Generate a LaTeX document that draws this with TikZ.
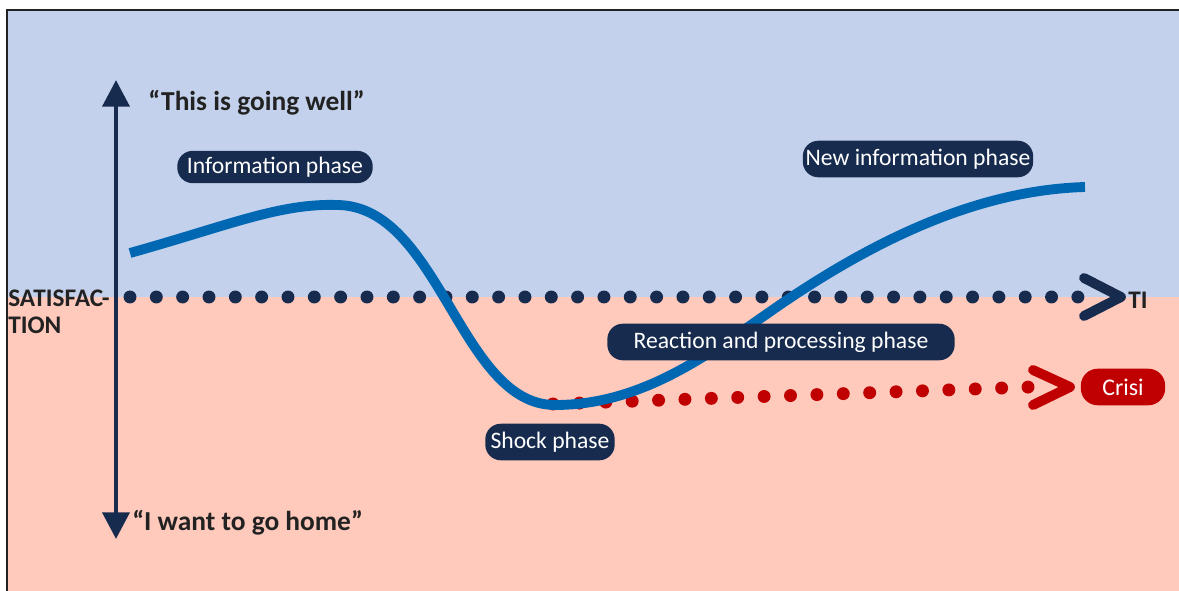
\documentclass[tikz,border=0pt]{standalone}
\usepackage{fontspec}
\setmainfont{Carlito}
\usetikzlibrary{arrows.meta}

\definecolor{bgblue}{HTML}{C4D1EC}
\definecolor{bgpink}{HTML}{FFC9BC}
\definecolor{navy}{HTML}{172B4E}
\definecolor{curveblue}{HTML}{0068B3}
\definecolor{crisisred}{HTML}{C00000}
\definecolor{ink}{HTML}{222222}

\tikzset{
  phase/.style={fill=navy, text=white, rounded corners=11pt, minimum height=26pt,
    inner xsep=2pt, inner ysep=0pt, font=\fontsize{16.8}{19}\selectfont},
  saying/.style={text=ink, inner sep=0pt, font=\fontsize{19.5}{22}\selectfont\bfseries},
  axislabel/.style={text=ink, inner sep=0pt, font=\fontsize{18}{20}\selectfont\bfseries},
  chevron/.style={line width=7pt, line cap=round, line join=round}
}

\begin{document}
\begin{tikzpicture}[x=0.025cm,y=-0.025cm]
  \useasboundingbox (0,0) rectangle (1179,591);

  % background bands and frame
  \fill[bgblue] (7,10) rectangle (1179,297);
  \fill[bgpink] (7,297) rectangle (1179,591);
  \draw[ink, line width=2pt] (7,591) -- (7,10) -- (1179,10);

  % vertical axis
  \coordinate (axtop) at (116,80);
  \coordinate (axbot) at (116,539);
  \draw[navy, line width=3.5pt, {Triangle[length=19pt,width=19pt]}-{Triangle[length=19pt,width=19pt]}] (axbot) -- (axtop);
  \node[saying, anchor=base west] (well) at (148,110) {“This is going well”};
  \node[saying, anchor=base west] (home) at (132,530) {“I want to go home”};

  % satisfaction line
  \node[axislabel, anchor=base west] (sat1) at (8,306) {SATISFAC-};
  \node[axislabel, anchor=base west] (sat2) at (8,333) {TION};
  \foreach \i in {0,...,36}
    \fill[navy] ({130+\i*26.33},297) circle (4.6pt);
  \coordinate (satend) at (1121,297);
  \draw[navy, chevron] (1084,278) -- (satend) -- (1084,316);
  \node[axislabel, anchor=base west] (ti) at (1128,308) {TI};

  % crisis line
  \foreach \i in {0,...,18}
    \fill[crisisred] ({553+\i*26.39},{404-\i*0.94}) circle (4.6pt);
  \coordinate (crisend) at (1070,387);
  \draw[crisisred, chevron] (1033,370) -- (crisend) -- (1033,405);
  \node[fill=crisisred, text=white, rounded corners=12pt, minimum width=60pt,
    minimum height=26pt, inner sep=0pt, font=\fontsize{17}{19}\selectfont] (crisi) at (1123,387) {Crisi};

  % curve
  \draw[curveblue, line width=7pt] (130,253) .. controls (230,225) and (280,203) .. (338,205)
    .. controls (440,207) and (460,405) .. (555,405)
    .. controls (650,405) and (720,345) .. (790,298)
    .. controls (880,238) and (980,190) .. (1085,187);

  % phases
  \node[phase, minimum width=139pt, minimum height=23pt] (info) at (275,167) {Information phase};
  \node[phase, minimum width=160pt] (newinfo) at (918,159) {New information phase};
  \node[phase, minimum width=247pt] (react) at (781,342) {Reaction and processing phase};
  \node[phase, minimum width=92pt] (shock) at (550,442) {Shock phase};
\end{tikzpicture}
\end{document}
